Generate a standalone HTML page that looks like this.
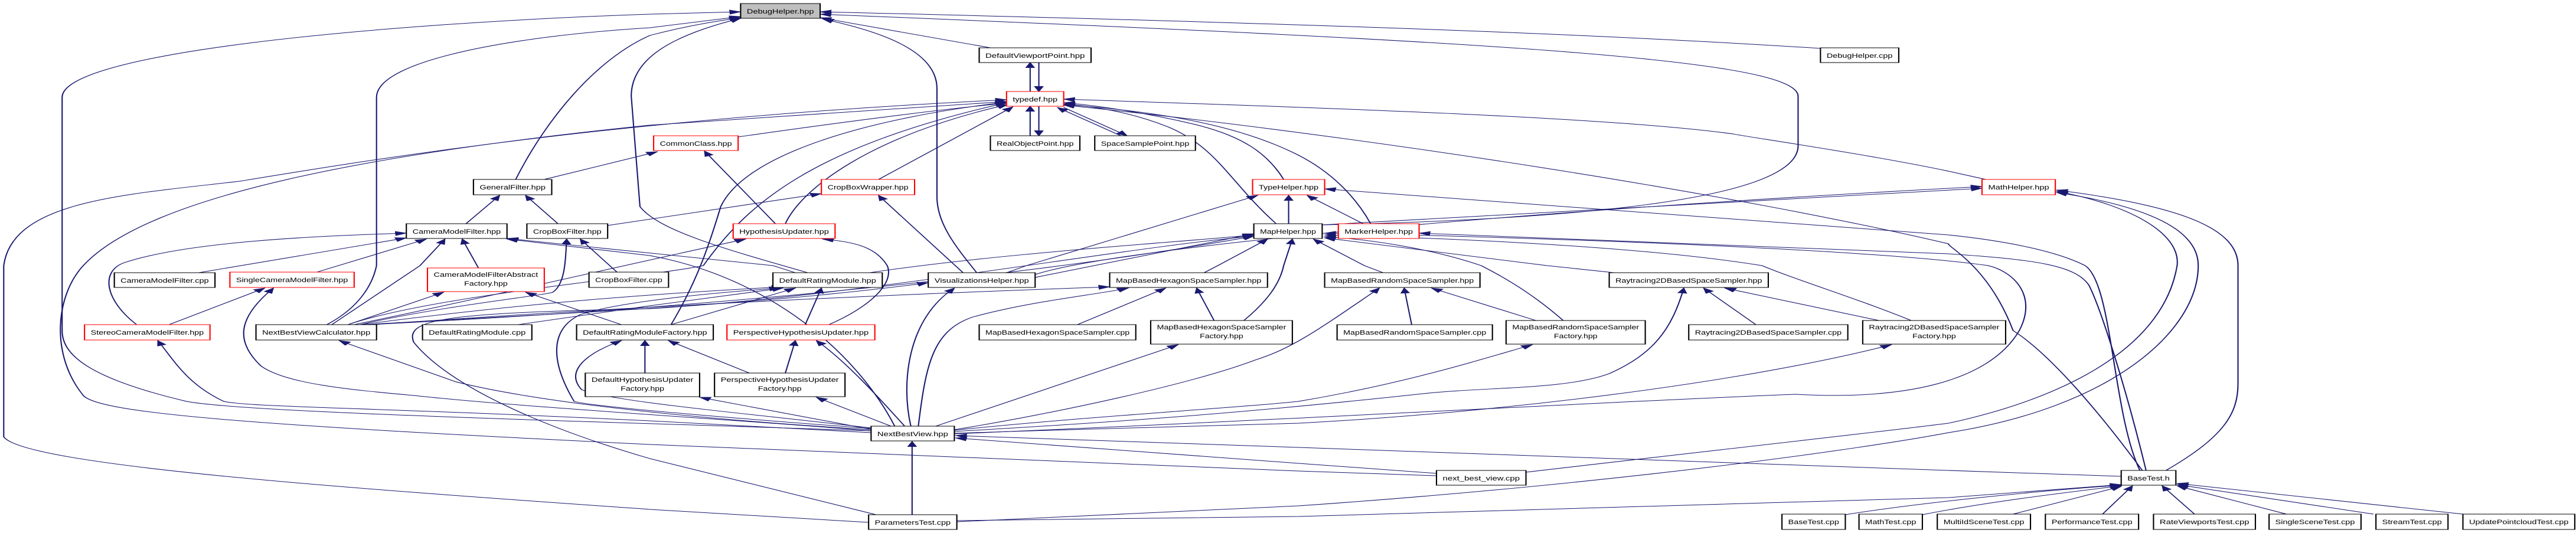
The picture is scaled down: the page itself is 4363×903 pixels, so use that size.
<!DOCTYPE html>
<html><head><meta charset="utf-8"><style>
html,body{margin:0;padding:0;background:#fff;width:4363px;height:903px;overflow:hidden}
svg{display:block}
text{font-family:"Liberation Sans",sans-serif;font-size:11px;fill:#000}
.e{fill:none;stroke:#191970;stroke-width:1}
.n{fill:#fff;stroke:#000;stroke-width:1}
.r{fill:#fff;stroke:#ff0000;stroke-width:1}
.g{fill:#bfbfbf;stroke:#000;stroke-width:1}
</style></head><body>
<svg width="4363" height="903" viewBox="0 0 2073 903" preserveAspectRatio="none" xmlns="http://www.w3.org/2000/svg">
<defs><marker id="a" markerUnits="userSpaceOnUse" markerWidth="12" markerHeight="10" refX="9" refY="4" orient="auto"><path d="M0,0 L10,4 L0,8 z" fill="#191970"/></marker></defs>
<g class="edges" marker-end="url(#a)">
<path class="e" marker-end="url(#a)" d="M701,730 C500,715 200,700 150,680 C70,640 50,600 50,560 L50,165 C50,90 300,40 523,24 L596,20"/>
<path class="e" marker-end="url(#a)" d="M263,550 C290,520 300,480 303,450 L303,165 C303,100 420,60 523,47 L596,28"/>
<path class="e" marker-end="url(#a)" d="M415,304 C440,200 480,100 523,60 C550,45 575,36 596,30"/>
<path class="e" marker-end="url(#a)" d="M650,462 C580,420 530,390 515,350 L508,163 C508,100 540,60 596,31"/>
<path class="e" marker-end="url(#a)" d="M1465,82 C1300,60 1100,42 660,20"/>
<path class="e" marker-end="url(#a)" d="M1064,381 C1300,370 1447,330 1447,247 L1447,163 C1447,100 1200,70 660,24"/>
<path class="e" marker-end="url(#a)" d="M797,81 L660,30"/>
<path class="e" marker-end="url(#a)" d="M786,462 C770,420 754,380 754,333 L754,150 C754,80 700,50 662,32"/>
<path class="e" marker-end="url(#a)" d="M829,155 L829,106"/>
<path class="e" marker-end="url(#a)" d="M836,106 L836,155"/>
<path class="e" marker-end="url(#a)" d="M829,230 L829,180"/>
<path class="e" marker-end="url(#a)" d="M836,180 L836,230"/>
<path class="e" marker-end="url(#a)" d="M902,230 L851,182"/>
<path class="e" marker-end="url(#a)" d="M856,182 L907,230"/>
<path class="e" marker-end="url(#a)" d="M594,232 C700,200 780,180 810,175"/>
<path class="e" marker-end="url(#a)" d="M707,304 L815,181"/>
<path class="e" marker-end="url(#a)" d="M632,379 C645,320 700,230 811,177"/>
<path class="e" marker-end="url(#a)" d="M624,379 L567,256"/>
<path class="e" marker-end="url(#a)" d="M438,304 L529,257"/>
<path class="e" marker-end="url(#a)" d="M489,382 L661,328"/>
<path class="e" marker-end="url(#a)" d="M699,885 L523,863 C300,830 20,790 3,740 L3,450 C10,340 100,330 193,307 C300,270 500,200 810,169"/>
<path class="e" marker-end="url(#a)" d="M1156,806 L1045,798 L523,753 C200,720 80,700 67,670 C40,600 45,500 67,450 C120,330 300,260 523,212 L810,172"/>
<path class="e" marker-end="url(#a)" d="M375,379 L402,331"/>
<path class="e" marker-end="url(#a)" d="M449,379 L423,331"/>
<path class="e" marker-end="url(#a)" d="M160,462 L327,403"/>
<path class="e" marker-end="url(#a)" d="M255,461 L343,405"/>
<path class="e" marker-end="url(#a)" d="M267,550 L338,450 L358,405"/>
<path class="e" marker-end="url(#a)" d="M385,454 L372,405"/>
<path class="e" marker-end="url(#a)" d="M110,550 C85,510 80,460 100,445 C150,410 250,400 327,395"/>
<path class="e" marker-end="url(#a)" d="M640,462 L622,450 L408,404"/>
<path class="e" marker-end="url(#a)" d="M720,722 C690,600 620,470 523,433 L408,405"/>
<path class="e" marker-end="url(#a)" d="M497,462 L467,405"/>
<path class="e" marker-end="url(#a)" d="M290,550 C350,520 440,500 445,495 C455,480 455,440 456,405"/>
<path class="e" marker-end="url(#a)" d="M136,550 L213,488"/>
<path class="e" marker-end="url(#a)" d="M701,730 C600,712 420,690 333,670 C280,660 230,650 210,620 C190,580 190,540 220,488"/>
<path class="e" marker-end="url(#a)" d="M701,733 L523,713 C300,690 200,690 180,680 C150,650 140,610 127,577"/>
<path class="e" marker-end="url(#a)" d="M701,728 C600,715 450,690 367,647 L273,577"/>
<path class="e" marker-end="url(#a)" d="M500,550 L423,495"/>
<path class="e" marker-end="url(#a)" d="M280,550 L357,495"/>
<path class="e" marker-end="url(#a)" d="M417,550 L523,518 L630,488"/>
<path class="e" marker-end="url(#a)" d="M705,872 L523,777 C430,720 360,650 333,580 C325,540 360,530 523,523 C700,500 900,420 1009,400"/>
<path class="e" marker-end="url(#a)" d="M540,550 C560,480 570,420 580,350 C600,260 700,200 810,173"/>
<path class="e" marker-end="url(#a)" d="M775,462 L707,331"/>
<path class="e" marker-end="url(#a)" d="M667,550 C700,520 720,480 714,450 C705,420 690,410 662,405"/>
<path class="e" marker-end="url(#a)" d="M1033,304 C1020,260 1000,230 960,210 C920,190 880,178 856,174"/>
<path class="e" marker-end="url(#a)" d="M1027,379 C990,310 980,250 940,215 C910,190 880,180 856,176"/>
<path class="e" marker-end="url(#a)" d="M1037,379 L1037,331"/>
<path class="e" marker-end="url(#a)" d="M1598,304 L1568,290 C1500,260 1400,230 1395,227 C1300,200 1100,185 856,168"/>
<path class="e" marker-end="url(#a)" d="M1724,797 C1690,700 1650,600 1620,560 C1600,450 1568,420 1568,413 C1400,330 1100,230 856,178"/>
<path class="e" marker-end="url(#a)" d="M1103,379 C1090,330 1070,290 1045,263 C1000,215 940,190 856,177"/>
<path class="e" marker-end="url(#a)" d="M810,462 L826,450 L1012,331"/>
<path class="e" marker-end="url(#a)" d="M1727,797 C1710,650 1690,520 1681,483 C1670,450 1640,440 1568,430 L1142,395"/>
<path class="e" marker-end="url(#a)" d="M1722,797 C1700,700 1700,480 1678,450 C1650,420 1600,405 1568,398 L1066,320"/>
<path class="e" marker-end="url(#a)" d="M1097,379 L1052,331"/>
<path class="e" marker-end="url(#a)" d="M1064,381 L1595,319"/>
<path class="e" marker-end="url(#a)" d="M833,465 C900,420 1200,360 1595,316"/>
<path class="e" marker-end="url(#a)" d="M1228,800 C1350,770 1520,730 1568,717 C1650,680 1740,600 1752,450 C1755,400 1720,350 1655,324"/>
<path class="e" marker-end="url(#a)" d="M770,884 L1045,857 C1300,820 1500,760 1568,733 C1700,690 1769,560 1769,450 C1769,390 1730,350 1655,326"/>
<path class="e" marker-end="url(#a)" d="M1743,797 C1790,740 1801,700 1801,650 L1801,450 C1801,390 1760,350 1655,322"/>
<path class="e" marker-end="url(#a)" d="M1136,550 L1130,488"/>
<path class="e" marker-end="url(#a)" d="M1236,543 L1152,488"/>
<path class="e" marker-end="url(#a)" d="M768,728 C850,700 960,650 1010,610 C1040,590 1060,560 1110,488"/>
<path class="e" marker-end="url(#a)" d="M768,729 C850,710 1000,690 1045,680 C1130,650 1190,610 1233,584"/>
<path class="e" marker-end="url(#a)" d="M768,731 C900,715 1000,700 1145,667 C1200,655 1260,660 1295,633 C1330,600 1345,560 1355,488"/>
<path class="e" marker-end="url(#a)" d="M1413,550 L1371,488"/>
<path class="e" marker-end="url(#a)" d="M1512,543 L1388,488"/>
<path class="e" marker-end="url(#a)" d="M768,734 C900,725 1000,720 1045,717 C1200,700 1400,650 1522,584"/>
<path class="e" d="M768,735 C1000,715 1300,680 1445,668 C1528,678 1600,650 1625,560 C1640,500 1620,460 1600,450 C1500,420 1200,400 1066,395"/>
<path class="e" marker-end="url(#a)" d="M1258,543 C1240,510 1220,480 1192,450 C1150,420 1100,405 1066,401"/>
<path class="e" marker-end="url(#a)" d="M1113,462 L1098,450 L1057,405"/>
<path class="e" marker-end="url(#a)" d="M1299,462 L1245,450 L1066,403"/>
<path class="e" marker-end="url(#a)" d="M1538,543 C1500,510 1440,470 1418,450 C1300,410 1100,400 1066,398"/>
<path class="e" marker-end="url(#a)" d="M1156,802 L1045,785 L769,742"/>
<path class="e" marker-end="url(#a)" d="M1707,807 L1568,797 L1045,758 L769,738"/>
<path class="e" marker-end="url(#a)" d="M770,882 L1045,875 L1568,843 L1707,821"/>
<path class="e" marker-end="url(#a)" d="M1485,872 C1550,850 1650,830 1707,822"/>
<path class="e" marker-end="url(#a)" d="M1547,872 C1600,850 1660,835 1707,823"/>
<path class="e" marker-end="url(#a)" d="M1620,871 L1707,824"/>
<path class="e" marker-end="url(#a)" d="M1692,871 L1716,823"/>
<path class="e" marker-end="url(#a)" d="M1766,871 L1740,823"/>
<path class="e" marker-end="url(#a)" d="M1840,871 L1752,823"/>
<path class="e" marker-end="url(#a)" d="M1910,871 L1752,821"/>
<path class="e" marker-end="url(#a)" d="M1982,871 L1752,819"/>
<path class="e" marker-end="url(#a)" d="M648,550 L661,488"/>
<path class="e" marker-end="url(#a)" d="M540,550 L640,488"/>
<path class="e" marker-end="url(#a)" d="M632,632 L640,577"/>
<path class="e" marker-end="url(#a)" d="M603,632 L538,577"/>
<path class="e" marker-end="url(#a)" d="M717,722 L657,673"/>
<path class="e" marker-end="url(#a)" d="M700,727 L563,673"/>
<path class="e" marker-end="url(#a)" d="M728,722 C710,680 680,610 657,577"/>
<path class="e" marker-end="url(#a)" d="M733,722 C725,650 730,540 768,488"/>
<path class="e" marker-end="url(#a)" d="M753,722 L948,584"/>
<path class="e" marker-end="url(#a)" d="M739,722 C745,620 750,560 783,537 C830,510 880,500 908,488"/>
<path class="e" marker-end="url(#a)" d="M867,550 L938,488"/>
<path class="e" marker-end="url(#a)" d="M977,543 L963,488"/>
<path class="e" marker-end="url(#a)" d="M1001,543 C1020,510 1030,480 1033,450 L1040,405"/>
<path class="e" marker-end="url(#a)" d="M969,462 L980,450 L1020,405"/>
<path class="e" marker-end="url(#a)" d="M833,470 L1009,396"/>
<path class="e" marker-end="url(#a)" d="M734,872 L734,748"/>
<path class="e" marker-end="url(#a)" d="M519,632 L519,577"/>
<path class="e" marker-end="url(#a)" d="M701,725 C600,700 490,680 468,660 C455,630 470,600 500,577"/>
<path class="e" marker-end="url(#a)" d="M701,726 C600,710 480,690 462,680 C445,620 440,560 467,533 C500,510 580,495 628,488"/>
<path class="e" marker-end="url(#a)" d="M290,550 C400,520 500,500 630,486"/>
<path class="e" marker-end="url(#a)" d="M293,550 C450,530 600,520 747,479"/>
<path class="e" marker-end="url(#a)" d="M296,550 C500,530 800,480 1009,400"/>
<path class="e" marker-end="url(#a)" d="M300,550 C500,520 700,500 893,486"/>
<path class="e" marker-end="url(#a)" d="M285,550 C400,500 500,450 600,405"/>
<path class="e" marker-end="url(#a)" d="M280,550 C350,500 520,470 566,450 C600,350 650,250 810,174"/>
<path class="e" marker-end="url(#a)" d="M700,462 C800,430 950,410 1009,398"/>
</g>
<g>
<rect class="g" x="596" y="6" width="64" height="25"/><text x="628" y="23" text-anchor="middle" textLength="54" lengthAdjust="spacingAndGlyphs">DebugHelper.hpp</text>
<rect class="n" x="788" y="81" width="90" height="25"/><text x="833" y="98" text-anchor="middle" textLength="80" lengthAdjust="spacingAndGlyphs">DefaultViewportPoint.hpp</text>
<rect class="n" x="1465" y="81" width="63" height="25"/><text x="1496.5" y="98" text-anchor="middle" textLength="53" lengthAdjust="spacingAndGlyphs">DebugHelper.cpp</text>
<rect class="r" x="810" y="155" width="46" height="25"/><text x="833" y="172" text-anchor="middle" textLength="36" lengthAdjust="spacingAndGlyphs">typedef.hpp</text>
<rect class="r" x="526" y="230" width="68" height="25"/><text x="560" y="247" text-anchor="middle" textLength="58" lengthAdjust="spacingAndGlyphs">CommonClass.hpp</text>
<rect class="n" x="797" y="230" width="72" height="25"/><text x="833" y="247" text-anchor="middle" textLength="62" lengthAdjust="spacingAndGlyphs">RealObjectPoint.hpp</text>
<rect class="n" x="881" y="230" width="81" height="25"/><text x="921.5" y="247" text-anchor="middle" textLength="71" lengthAdjust="spacingAndGlyphs">SpaceSamplePoint.hpp</text>
<rect class="n" x="381" y="304" width="63" height="26"/><text x="412.5" y="321" text-anchor="middle" textLength="53" lengthAdjust="spacingAndGlyphs">GeneralFilter.hpp</text>
<rect class="r" x="661" y="304" width="75" height="26"/><text x="698.5" y="321" text-anchor="middle" textLength="65" lengthAdjust="spacingAndGlyphs">CropBoxWrapper.hpp</text>
<rect class="r" x="1008" y="304" width="58" height="26"/><text x="1037" y="321" text-anchor="middle" textLength="48" lengthAdjust="spacingAndGlyphs">TypeHelper.hpp</text>
<rect class="r" x="1595" y="304" width="59" height="26"/><text x="1624.5" y="321" text-anchor="middle" textLength="49" lengthAdjust="spacingAndGlyphs">MathHelper.hpp</text>
<rect class="n" x="327" y="379" width="81" height="25"/><text x="367.5" y="396" text-anchor="middle" textLength="71" lengthAdjust="spacingAndGlyphs">CameraModelFilter.hpp</text>
<rect class="n" x="424" y="379" width="65" height="25"/><text x="456.5" y="396" text-anchor="middle" textLength="55" lengthAdjust="spacingAndGlyphs">CropBoxFilter.hpp</text>
<rect class="r" x="590" y="379" width="82" height="25"/><text x="631" y="396" text-anchor="middle" textLength="72" lengthAdjust="spacingAndGlyphs">HypothesisUpdater.hpp</text>
<rect class="n" x="1009" y="379" width="55" height="25"/><text x="1036.5" y="396" text-anchor="middle" textLength="45" lengthAdjust="spacingAndGlyphs">MapHelper.hpp</text>
<rect class="r" x="1077" y="379" width="65" height="25"/><text x="1109.5" y="396" text-anchor="middle" textLength="55" lengthAdjust="spacingAndGlyphs">MarkerHelper.hpp</text>
<rect class="n" x="92" y="462" width="81" height="25"/><text x="132.5" y="479" text-anchor="middle" textLength="71" lengthAdjust="spacingAndGlyphs">CameraModelFilter.cpp</text>
<rect class="r" x="185" y="461" width="100" height="26"/><text x="235" y="478" text-anchor="middle" textLength="90" lengthAdjust="spacingAndGlyphs">SingleCameraModelFilter.hpp</text>
<rect class="r" x="344" y="454" width="94" height="40"/><text x="391" y="469" text-anchor="middle" textLength="84" lengthAdjust="spacingAndGlyphs">CameraModelFilterAbstract</text><text x="391" y="484" text-anchor="middle" textLength="35" lengthAdjust="spacingAndGlyphs">Factory.hpp</text>
<rect class="n" x="474" y="461" width="64" height="26"/><text x="506" y="478" text-anchor="middle" textLength="54" lengthAdjust="spacingAndGlyphs">CropBoxFilter.cpp</text>
<rect class="n" x="622" y="462" width="88" height="25"/><text x="666" y="479" text-anchor="middle" textLength="78" lengthAdjust="spacingAndGlyphs">DefaultRatingModule.hpp</text>
<rect class="n" x="747" y="462" width="86" height="25"/><text x="790" y="479" text-anchor="middle" textLength="76" lengthAdjust="spacingAndGlyphs">VisualizationsHelper.hpp</text>
<rect class="n" x="893" y="462" width="127" height="25"/><text x="956.5" y="479" text-anchor="middle" textLength="117" lengthAdjust="spacingAndGlyphs">MapBasedHexagonSpaceSampler.hpp</text>
<rect class="n" x="1066" y="462" width="125" height="25"/><text x="1128.5" y="479" text-anchor="middle" textLength="115" lengthAdjust="spacingAndGlyphs">MapBasedRandomSpaceSampler.hpp</text>
<rect class="n" x="1295" y="462" width="128" height="25"/><text x="1359" y="479" text-anchor="middle" textLength="118" lengthAdjust="spacingAndGlyphs">Raytracing2DBasedSpaceSampler.hpp</text>
<rect class="r" x="68" y="550" width="101" height="26"/><text x="118.5" y="567" text-anchor="middle" textLength="91" lengthAdjust="spacingAndGlyphs">StereoCameraModelFilter.hpp</text>
<rect class="n" x="206" y="550" width="97" height="26"/><text x="254.5" y="567" text-anchor="middle" textLength="87" lengthAdjust="spacingAndGlyphs">NextBestViewCalculator.hpp</text>
<rect class="n" x="340" y="550" width="88" height="26"/><text x="384" y="567" text-anchor="middle" textLength="78" lengthAdjust="spacingAndGlyphs">DefaultRatingModule.cpp</text>
<rect class="n" x="464" y="550" width="110" height="26"/><text x="519" y="567" text-anchor="middle" textLength="100" lengthAdjust="spacingAndGlyphs">DefaultRatingModuleFactory.hpp</text>
<rect class="r" x="585" y="550" width="119" height="26"/><text x="644.5" y="567" text-anchor="middle" textLength="109" lengthAdjust="spacingAndGlyphs">PerspectiveHypothesisUpdater.hpp</text>
<rect class="n" x="788" y="550" width="126" height="26"/><text x="851" y="567" text-anchor="middle" textLength="116" lengthAdjust="spacingAndGlyphs">MapBasedHexagonSpaceSampler.cpp</text>
<rect class="n" x="926" y="543" width="114" height="40"/><text x="983" y="558" text-anchor="middle" textLength="104" lengthAdjust="spacingAndGlyphs">MapBasedHexagonSpaceSampler</text><text x="983" y="573" text-anchor="middle" textLength="35" lengthAdjust="spacingAndGlyphs">Factory.hpp</text>
<rect class="n" x="1076" y="550" width="125" height="26"/><text x="1138.5" y="567" text-anchor="middle" textLength="115" lengthAdjust="spacingAndGlyphs">MapBasedRandomSpaceSampler.cpp</text>
<rect class="n" x="1212" y="543" width="112" height="40"/><text x="1268" y="558" text-anchor="middle" textLength="102" lengthAdjust="spacingAndGlyphs">MapBasedRandomSpaceSampler</text><text x="1268" y="573" text-anchor="middle" textLength="35" lengthAdjust="spacingAndGlyphs">Factory.hpp</text>
<rect class="n" x="1359" y="550" width="128" height="26"/><text x="1423" y="567" text-anchor="middle" textLength="118" lengthAdjust="spacingAndGlyphs">Raytracing2DBasedSpaceSampler.cpp</text>
<rect class="n" x="1499" y="543" width="115" height="40"/><text x="1556.5" y="558" text-anchor="middle" textLength="105" lengthAdjust="spacingAndGlyphs">Raytracing2DBasedSpaceSampler</text><text x="1556.5" y="573" text-anchor="middle" textLength="35" lengthAdjust="spacingAndGlyphs">Factory.hpp</text>
<rect class="n" x="471" y="632" width="92" height="40"/><text x="517" y="647" text-anchor="middle" textLength="82" lengthAdjust="spacingAndGlyphs">DefaultHypothesisUpdater</text><text x="517" y="662" text-anchor="middle" textLength="35" lengthAdjust="spacingAndGlyphs">Factory.hpp</text>
<rect class="n" x="575" y="632" width="105" height="40"/><text x="627.5" y="647" text-anchor="middle" textLength="95" lengthAdjust="spacingAndGlyphs">PerspectiveHypothesisUpdater</text><text x="627.5" y="662" text-anchor="middle" textLength="35" lengthAdjust="spacingAndGlyphs">Factory.hpp</text>
<rect class="n" x="701" y="722" width="67" height="25"/><text x="734.5" y="739" text-anchor="middle" textLength="57" lengthAdjust="spacingAndGlyphs">NextBestView.hpp</text>
<rect class="n" x="1156" y="797" width="72" height="25"/><text x="1192" y="814" text-anchor="middle" textLength="62" lengthAdjust="spacingAndGlyphs">next_best_view.cpp</text>
<rect class="n" x="1707" y="797" width="44" height="25"/><text x="1729" y="814" text-anchor="middle" textLength="34" lengthAdjust="spacingAndGlyphs">BaseTest.h</text>
<rect class="n" x="699" y="872" width="71" height="25"/><text x="734.5" y="889" text-anchor="middle" textLength="61" lengthAdjust="spacingAndGlyphs">ParametersTest.cpp</text>
<rect class="n" x="1434" y="871" width="51" height="26"/><text x="1459.5" y="888" text-anchor="middle" textLength="41" lengthAdjust="spacingAndGlyphs">BaseTest.cpp</text>
<rect class="n" x="1496" y="871" width="51" height="26"/><text x="1521.5" y="888" text-anchor="middle" textLength="41" lengthAdjust="spacingAndGlyphs">MathTest.cpp</text>
<rect class="n" x="1559" y="871" width="75" height="26"/><text x="1596.5" y="888" text-anchor="middle" textLength="65" lengthAdjust="spacingAndGlyphs">MultiIdSceneTest.cpp</text>
<rect class="n" x="1646" y="871" width="75" height="26"/><text x="1683.5" y="888" text-anchor="middle" textLength="65" lengthAdjust="spacingAndGlyphs">PerformanceTest.cpp</text>
<rect class="n" x="1733" y="871" width="82" height="26"/><text x="1774" y="888" text-anchor="middle" textLength="72" lengthAdjust="spacingAndGlyphs">RateViewportsTest.cpp</text>
<rect class="n" x="1826" y="871" width="74" height="26"/><text x="1863" y="888" text-anchor="middle" textLength="64" lengthAdjust="spacingAndGlyphs">SingleSceneTest.cpp</text>
<rect class="n" x="1912" y="871" width="58" height="26"/><text x="1941" y="888" text-anchor="middle" textLength="48" lengthAdjust="spacingAndGlyphs">StreamTest.cpp</text>
<rect class="n" x="1982" y="871" width="90" height="26"/><text x="2027" y="888" text-anchor="middle" textLength="80" lengthAdjust="spacingAndGlyphs">UpdatePointcloudTest.cpp</text>
</g>
</svg>
</body></html>
